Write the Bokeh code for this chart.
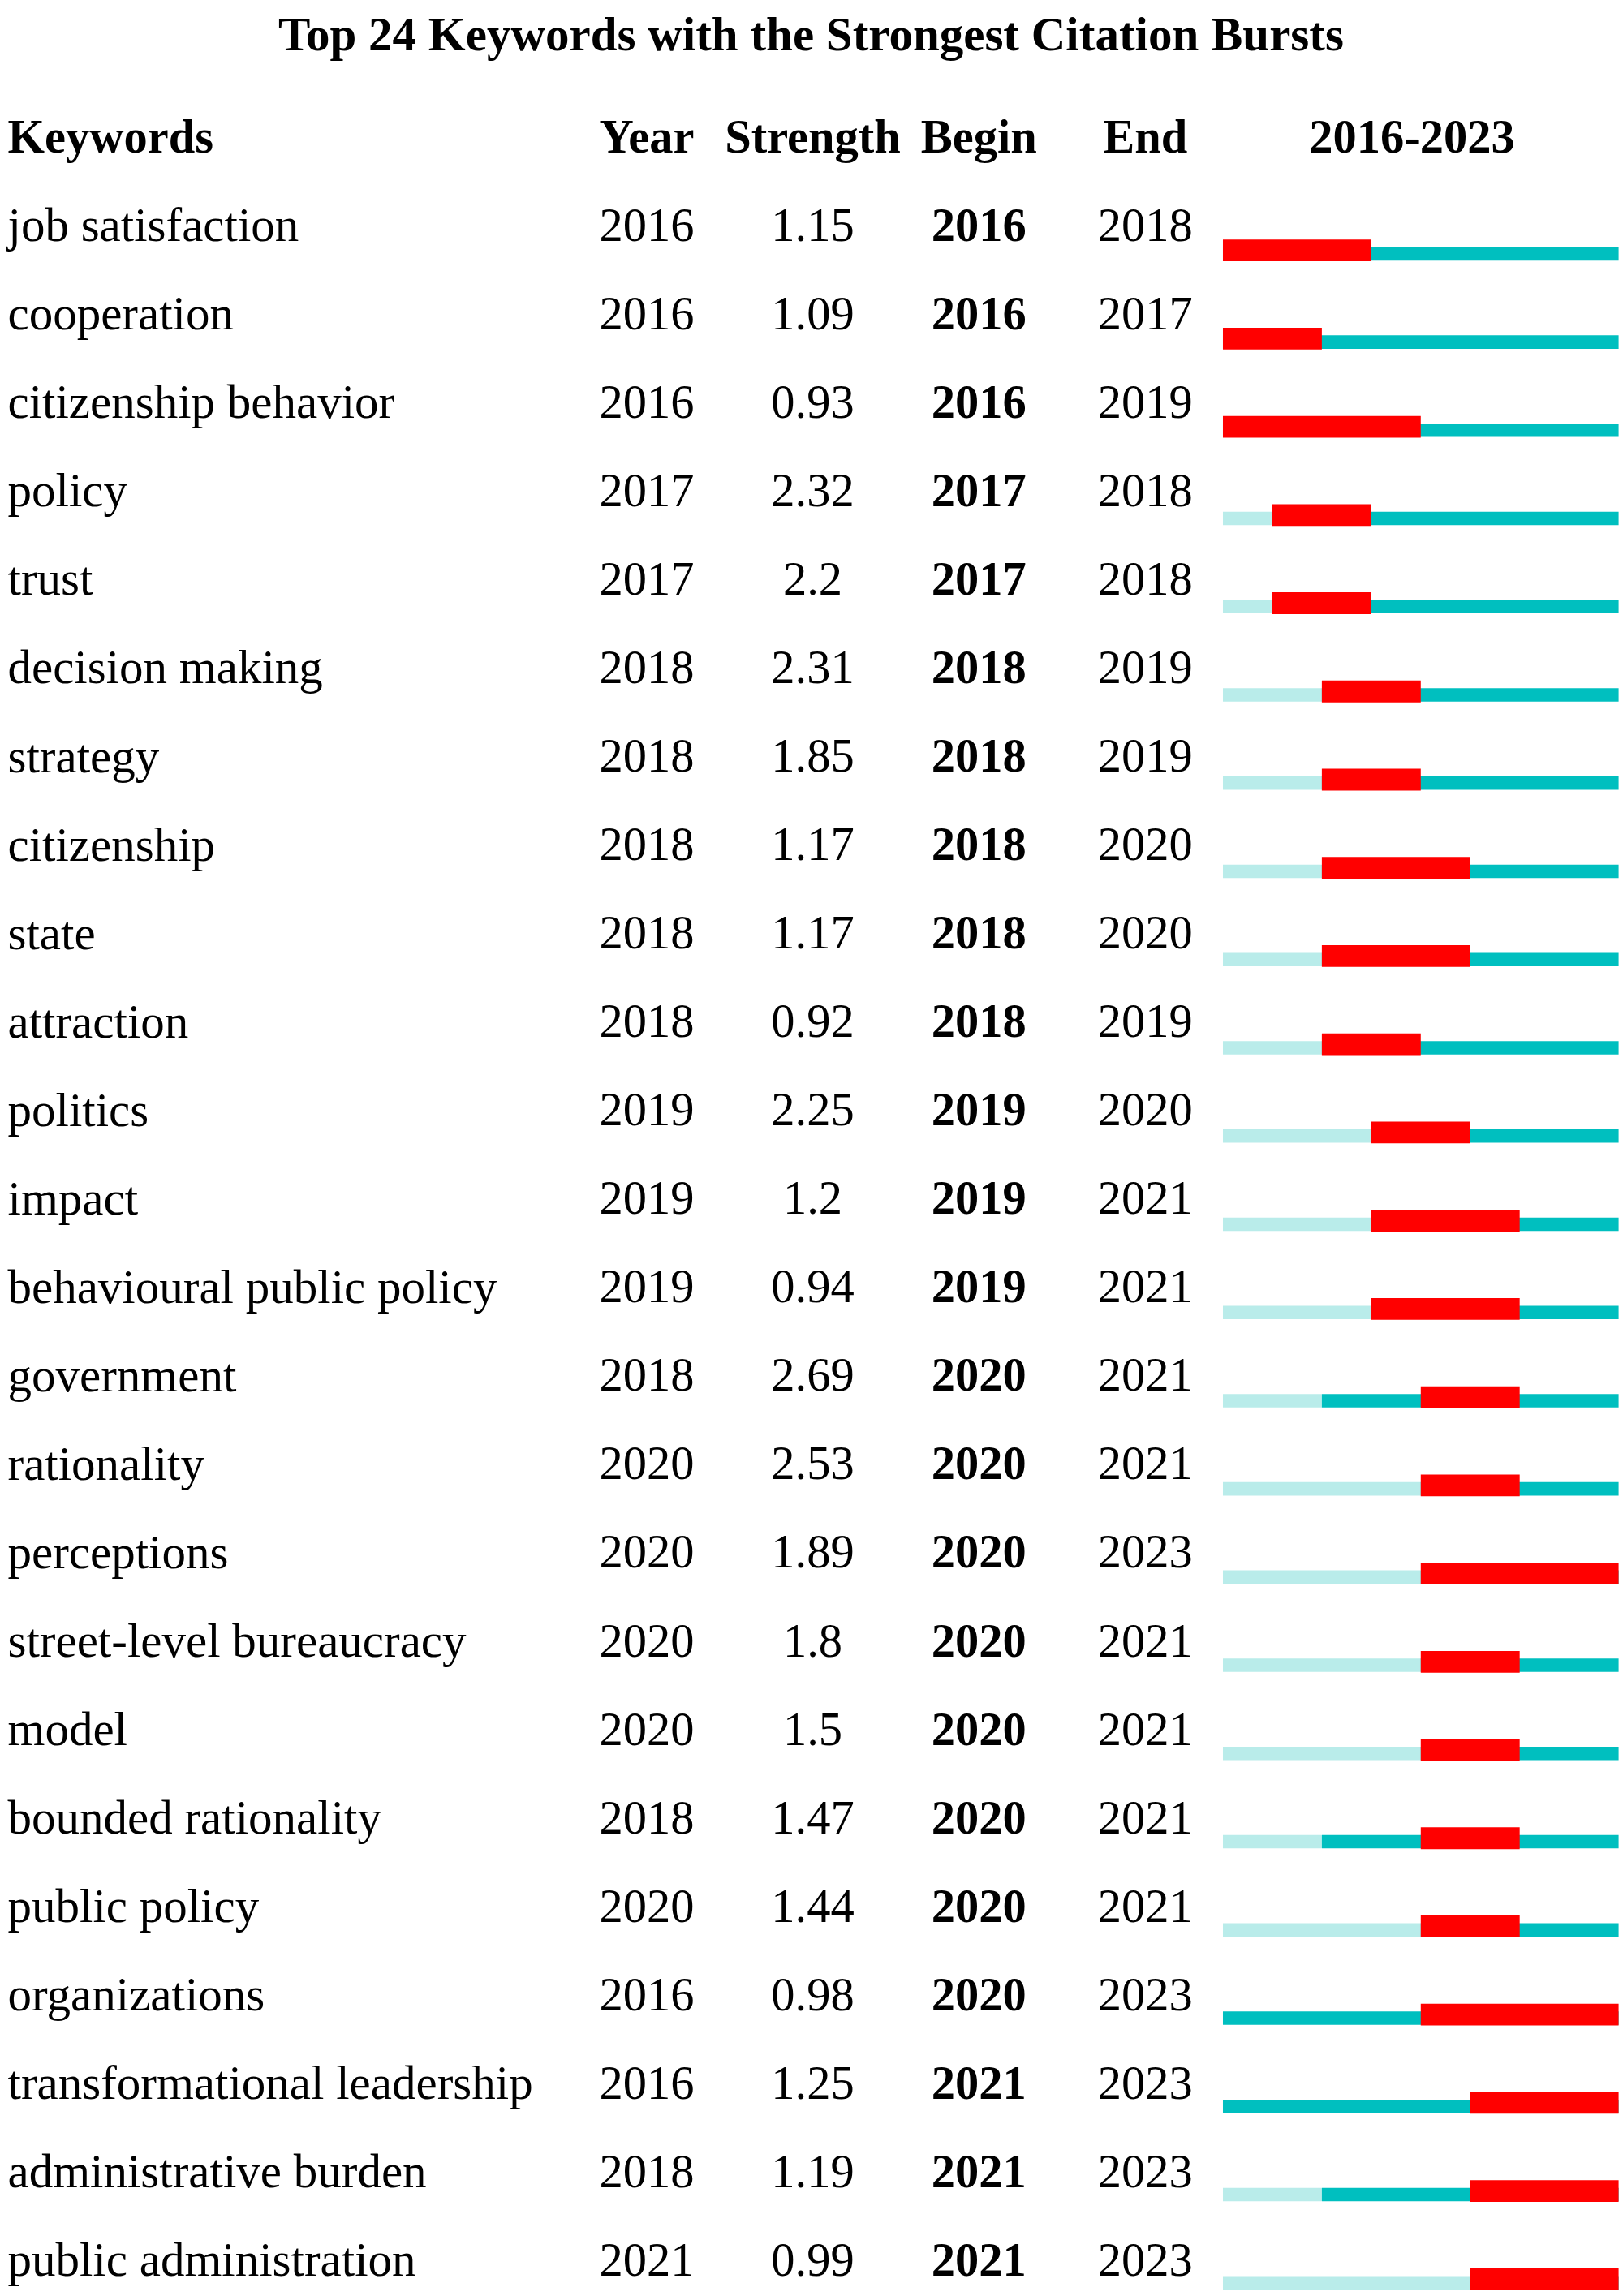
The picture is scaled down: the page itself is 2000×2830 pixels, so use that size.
from bokeh.plotting import figure
from bokeh.models import ColumnDataSource, Range1d
from bokeh.core.properties import value
from bokeh.embed import file_html
from bokeh.resources import INLINE

# ---------------- data ----------------
keywords = ["job satisfaction", "cooperation", "citizenship behavior", "policy", "trust",
            "decision making", "strategy", "citizenship", "state", "attraction",
            "politics", "impact", "behavioural public policy", "government", "rationality",
            "perceptions", "street-level bureaucracy", "model", "bounded rationality",
            "public policy", "organizations", "transformational leadership",
            "administrative burden", "public administration"]
years = [2016, 2016, 2016, 2017, 2017, 2018, 2018, 2018, 2018, 2018, 2019, 2019, 2019,
         2018, 2020, 2020, 2020, 2020, 2018, 2020, 2016, 2016, 2018, 2021]
strengths = [1.15, 1.09, 0.93, 2.32, 2.2, 2.31, 1.85, 1.17, 1.17, 0.92, 2.25, 1.2, 0.94,
             2.69, 2.53, 1.89, 1.8, 1.5, 1.47, 1.44, 0.98, 1.25, 1.19, 0.99]
begins = [2016, 2016, 2016, 2017, 2017, 2018, 2018, 2018, 2018, 2018, 2019, 2019, 2019,
          2020, 2020, 2020, 2020, 2020, 2020, 2020, 2020, 2021, 2021, 2021]
ends = [2018, 2017, 2019, 2018, 2018, 2019, 2019, 2020, 2020, 2019, 2020, 2021, 2021,
        2021, 2021, 2023, 2021, 2021, 2021, 2021, 2023, 2023, 2023, 2023]
period_start, period_end = 2016, 2023
headers = ["Keywords", "Year", "Strength", "Begin", "End", "2016-2023"]
title_text = "Top 24 Keywords with the Strongest Citation Bursts"

# ---------------- styling ----------------
FONT = value("Liberation Serif")
FS = "58.5px"
FS_KW = "59px"
RED = "#FF0000"
CYAN = "#00BFBF"
PALE = "#B9ECEA"

W, H = 2000, 2830
rows = list(range(len(keywords)))

# main ranges: x in years, y in row units (bars)
p = figure(width=W, height=H, output_backend="svg", toolbar_location=None,
           x_range=Range1d(1991.283, 2024.097), y_range=Range1d(23.194, -2.8336),
           x_axis_type=None, y_axis_type=None, min_border=0,
           outline_line_color=None, background_fill_color="white",
           border_fill_color="white")
p.grid.visible = False
# text ranges: x in page pixels, y in text-row units
p.extra_x_ranges = {"px": Range1d(0, 2000)}
p.extra_y_ranges = {"txt": Range1d(23.414, -2.5374)}

# ---------------- bars ----------------
pale_src = ColumnDataSource(dict(
    y=[r + 0.0395 for r, yr in zip(rows, years) if yr > period_start],
    left=[period_start for yr in years if yr > period_start],
    right=[yr for yr in years if yr > period_start]))
cyan_src = ColumnDataSource(dict(
    y=[r + 0.0395 for r in rows],
    left=years,
    right=[period_end + 1] * len(rows)))
red_src = ColumnDataSource(dict(
    y=rows, left=begins, right=[e + 1 for e in ends]))

p.hbar(y="y", left="left", right="right", height=0.1518, source=pale_src,
       fill_color=PALE, line_color=None)
p.hbar(y="y", left="left", right="right", height=0.1518, source=cyan_src,
       fill_color=CYAN, line_color=None)
p.hbar(y="y", left="left", right="right", height=0.2465, source=red_src,
       fill_color=RED, line_color=None)

# ---------------- text ----------------
src = ColumnDataSource(dict(
    y=rows, kw=keywords, yr=[str(v) for v in years],
    st=[str(v) for v in strengths], bg=[str(v) for v in begins],
    en=[str(v) for v in ends]))

common = dict(y="y", source=src, text_font=FONT,
              text_baseline="alphabetic", text_color="black",
              x_range_name="px", y_range_name="txt")
p.text(x=9, text="kw", text_align="left", text_font_size=FS_KW, **common)
p.text(x=796.5, text="yr", text_align="center", text_font_size=FS, **common)
p.text(x=1001, text="st", text_align="center", text_font_size=FS, **common)
p.text(x=1205.7, text="bg", text_align="center", text_font_style="bold",
       text_font_size=FS, **common)
p.text(x=1410.8, text="en", text_align="center", text_font_size=FS, **common)

hdr_src = ColumnDataSource(dict(
    x=[9, 796.5, 1001, 1205.7, 1410.8, 1739.6],
    y=[-1] * 6, t=headers,
    align=["left", "center", "center", "center", "center", "center"]))
p.text(x="x", y="y", text="t", text_align="align", source=hdr_src,
       text_font=FONT, text_font_size=FS, text_font_style="bold",
       text_baseline="alphabetic", text_color="black",
       x_range_name="px", y_range_name="txt")

p.text(x=[999], y=[-2.161], text=[title_text], text_align="center",
       text_font=FONT, text_font_size="59px", text_font_style="bold",
       text_baseline="alphabetic", text_color="black",
       x_range_name="px", y_range_name="txt")

open("out.html", "w").write(file_html(p, INLINE))
